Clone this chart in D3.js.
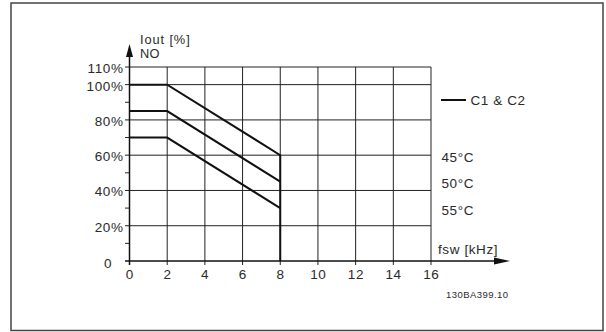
<!DOCTYPE html>
<html><head><meta charset="utf-8">
<script src="https://cdn.jsdelivr.net/npm/d3@7"></script>
<style>
html,body{margin:0;padding:0;background:#fff;}
text{font-family:"Liberation Sans",Arial,sans-serif;fill:#2a2a2a;}
</style></head>
<body><svg id="c" width="606" height="332"></svg>
<script>
const xTicks = [0,2,4,6,8,10,12,14,16];
const yMajor = [20,40,60,80,100,110];
const yMinor = [10,30,50,70,90];
const yLabels = ["20%","40%","60%","80%","100%","110%"];
const fsw = [0,2,8,8];
const curve45 = [100,100,60,0];
const curve50 = [85,85,45];
const curve55 = [70,70,30];
const tempLabels = ["45°C","50°C","55°C"];
const legendLabel = "C1 & C2";

const FS = 13.5, LS = 0.6;
const svg = d3.select("#c");
const x = d3.scaleLinear().domain([0,16]).range([129.5,431]);
const y = d3.scaleLinear().domain([0,110]).range([261,67]);

// frame
svg.append("rect").attr("x",11).attr("y",3).attr("width",592).attr("height",327.5)
  .attr("fill","none").attr("stroke","#444").attr("stroke-width",1.5);

// horizontal grid
svg.selectAll(".hg").data(yMajor).enter().append("line")
  .attr("x1",125).attr("x2",x(16)).attr("y1",d=>y(d)).attr("y2",d=>y(d))
  .attr("stroke","#222").attr("stroke-width",1);
// vertical grid
svg.selectAll(".vg").data(xTicks.slice(1)).enter().append("line")
  .attr("x1",d=>x(d)).attr("x2",d=>x(d)).attr("y1",y(0)+4).attr("y2",y(110))
  .attr("stroke","#222").attr("stroke-width",1);
// minor y ticks
svg.selectAll(".mt").data(yMinor).enter().append("line")
  .attr("x1",125).attr("x2",x(0)).attr("y1",d=>y(d)).attr("y2",d=>y(d))
  .attr("stroke","#222").attr("stroke-width",1);

// axes
svg.append("line").attr("x1",x(0)).attr("x2",x(0)).attr("y1",y(0)+4).attr("y2",50)
  .attr("stroke","#111").attr("stroke-width",1.5);
svg.append("path").attr("d",`M${x(0)},44 L${x(0)-3.5},57 L${x(0)+3.5},57 Z`).attr("fill","#111");
svg.append("line").attr("x1",125).attr("x2",500).attr("y1",y(0)).attr("y2",y(0))
  .attr("stroke","#111").attr("stroke-width",1.5);
svg.append("path").attr("d",`M510,${y(0)} L494,${y(0)-3.5} L494,${y(0)+3.5} Z`).attr("fill","#111");

function txt(sel){ return sel.attr("font-size",FS).attr("letter-spacing",LS); }

// tick labels
txt(svg.selectAll(".xl").data(xTicks).enter().append("text")
  .attr("x",d=>x(d)+LS/2).attr("y",279).attr("text-anchor","middle")).text(d=>d);
txt(svg.selectAll(".yl").data(yMajor).enter().append("text")
  .attr("x",123.5).attr("y",d=>y(d)+6).attr("text-anchor","end")).text((d,i)=>yLabels[i]);
txt(svg.append("text").attr("x",112).attr("y",268).attr("text-anchor","end")).text("0");

// curves
const line = d3.line().x(d=>x(d[0])).y(d=>y(d[1]));
[curve45,curve50,curve55].forEach(c=>{
  svg.append("path").datum(c.map((v,i)=>[fsw[i],v])).attr("d",line)
    .attr("fill","none").attr("stroke","#111").attr("stroke-width",2);
});

// axis titles
svg.append("text").attr("x",140).attr("y",43.5).attr("font-size",12.8).attr("letter-spacing",0.9).text("Iout [%]");
svg.append("text").attr("x",140).attr("y",57.5).attr("font-size",12.8).attr("letter-spacing",0.3).text("NO");
txt(svg.append("text").attr("x",438).attr("y",254)).text("fsw [kHz]");

// legend
svg.append("line").attr("x1",441).attr("x2",466).attr("y1",100).attr("y2",100)
  .attr("stroke","#111").attr("stroke-width",2);
txt(svg.append("text").attr("x",470.5).attr("y",104.5)).text(legendLabel);
const tY = [162,188,215];
txt(svg.selectAll(".tl").data(tempLabels).enter().append("text")
  .attr("x",441.5).attr("y",(d,i)=>tY[i])).text(d=>d);

svg.append("text").attr("x",446).attr("y",298).attr("font-size",9.5).attr("letter-spacing",0.45).text("130BA399.10");
</script></body></html>
